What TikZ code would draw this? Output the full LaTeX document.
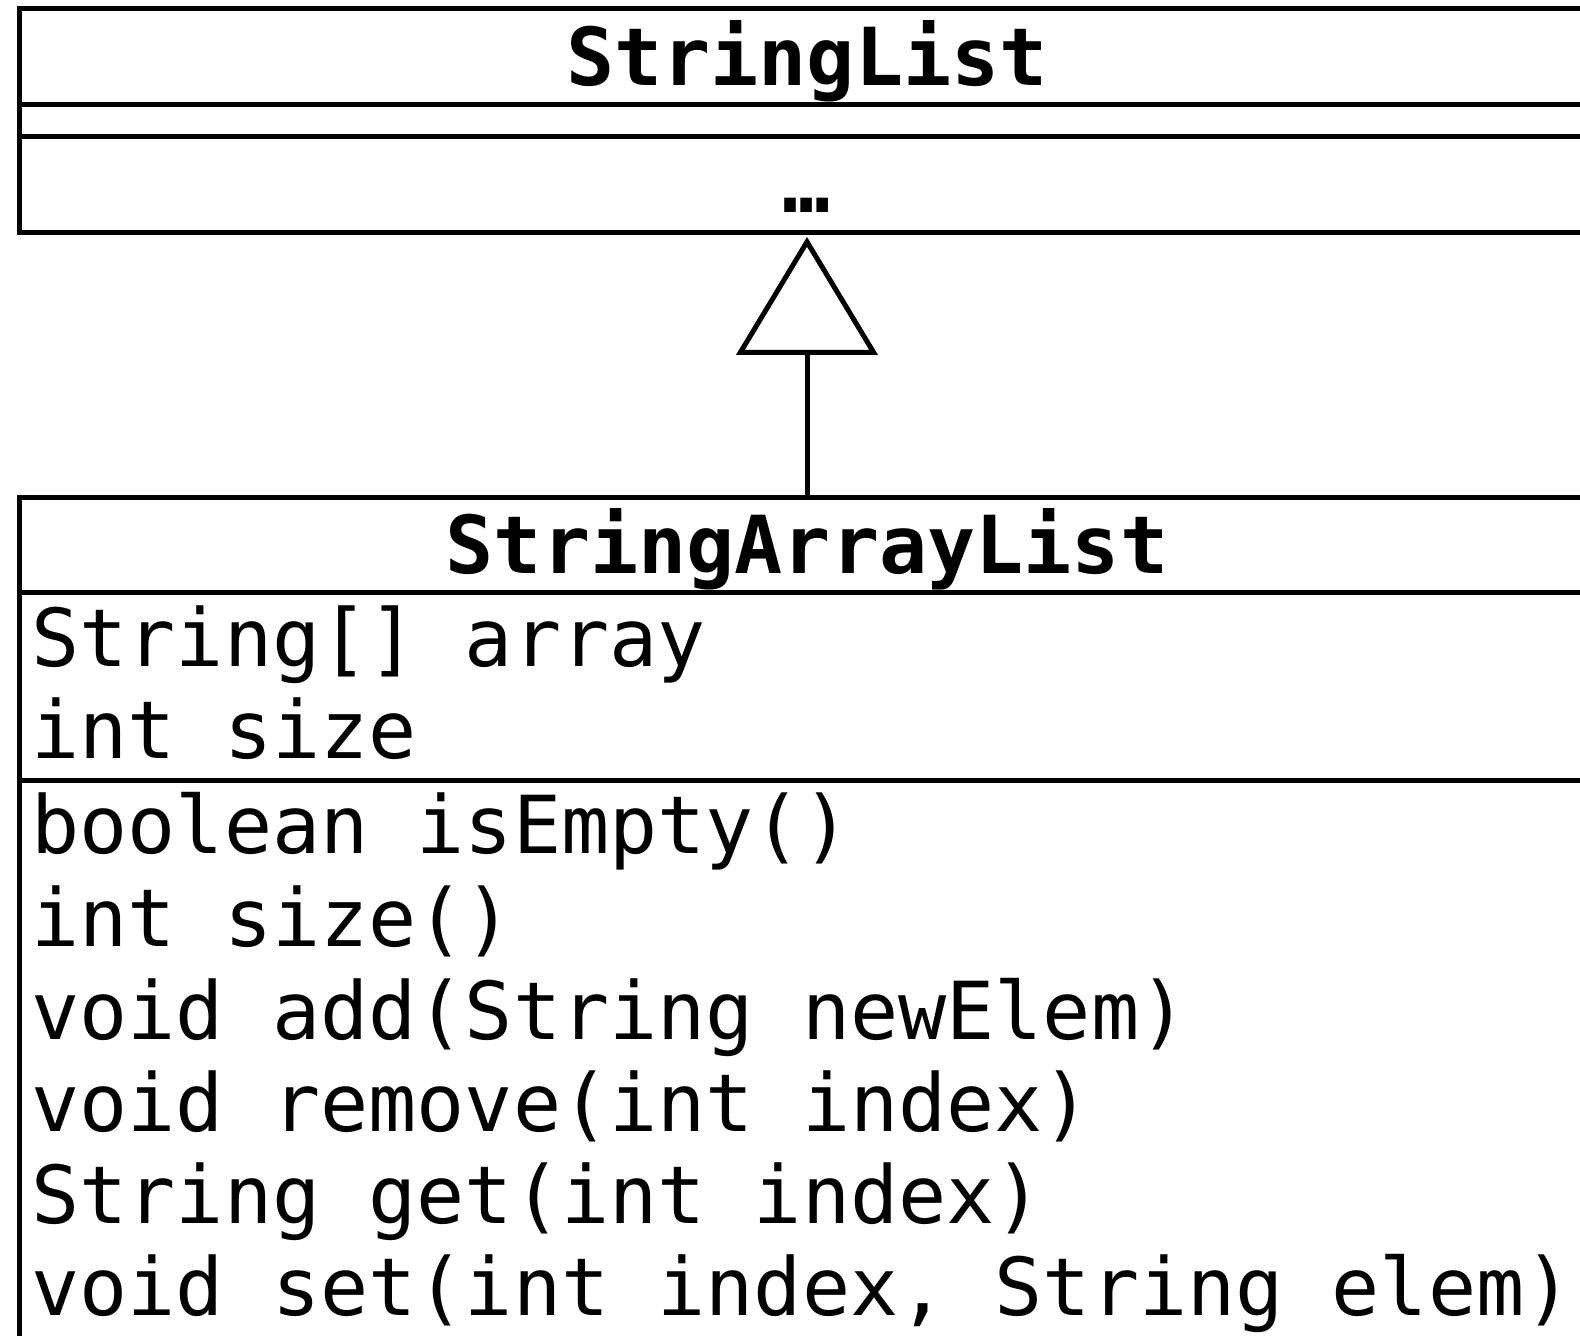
\documentclass[tikz,border=0pt]{standalone}
\usepackage{fontspec}
\setmonofont{DejaVu Sans Mono}
\usetikzlibrary{arrows.meta,positioning}

\begin{document}
\begin{tikzpicture}[x=0.5pt, y=-0.5pt, line width=2.5pt,
  classbox/.style={draw, rectangle, inner sep=0pt, outer sep=0pt, anchor=north west},
  classname/.style={font=\ttfamily\bfseries\fontsize{40}{46}\selectfont, anchor=base, inner sep=0pt},
  member/.style={font=\ttfamily\fontsize{40}{46}\selectfont, anchor=base west, inner sep=0pt}]
  \useasboundingbox (0,0) rectangle (1580,1336);
  \clip (0,0) rectangle (1580,1336);

  % Superclass
  \node[classbox, minimum width=788pt, minimum height=112pt] (sl) at (19,9) {};
  \draw (19,105) -- (1595,105);
  \draw (19,137) -- (1595,137);
  \node[classname] (slname) at (807,86) {StringList};
  \node[classname] (sldots) at (807,213) {…};

  % Subclass
  \node[classbox, minimum width=788pt, minimum height=431pt] (sal) at (19,498) {};
  \draw (19,593) -- (1595,593);
  \draw (19,780) -- (1595,780);
  \node[classname] (salname) at (807,574) {StringArrayList};
  \node[member] (fieldarray) at (29,667) {String[] array};
  \node[member] (fieldsize) at (29,758) {int size};
  \node[member] (opempty) at (29,853) {boolean isEmpty()};
  \node[member] (opsize) at (29,946) {int size()};
  \node[member] (opadd) at (29,1039) {void add(String newElem)};
  \node[member] (opremove) at (29,1131) {void remove(int index)};
  \node[member] (opget) at (29,1223) {String get(int index)};
  \node[member] (opset) at (29,1315) {void set(int index, String elem)};

  % Generalization
  \draw[-{Triangle[open, length=59pt, width=70.5pt]}] (sal.north) -- ([yshift=-2pt]sl.south);
\end{tikzpicture}
\end{document}
